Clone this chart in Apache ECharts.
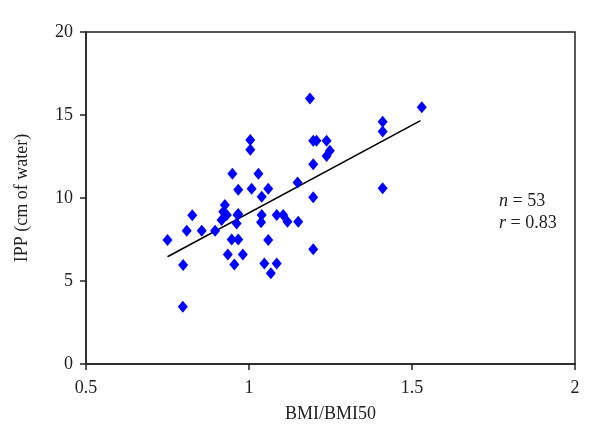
<!DOCTYPE html>
<html>
<head>
<meta charset="utf-8">
<script src="https://cdn.jsdelivr.net/npm/echarts@6/dist/echarts.min.js"></script>
<style>html,body{margin:0;padding:0;background:#fff}#c{width:600px;height:447px}</style>
</head>
<body>
<div id="c"></div>
<script>
// BMI/BMI50 values
var bmiRatio = [0.750,0.797,0.798,0.809,0.826,0.855,0.896,0.916,0.921,0.926,0.932,0.935,0.947,0.949,0.955,0.962,0.965,0.967,0.967,0.967,0.981,1.004,1.004,1.008,1.029,1.039,1.039,1.037,1.047,1.059,1.059,1.067,1.085,1.085,1.105,1.118,1.151,1.149,1.187,1.197,1.207,1.238,1.248,1.238,1.197,1.197,1.197,1.410,1.410,1.410,1.530];
// IPP values (cm of water)
var ipp = [7.47,3.45,5.96,8.03,8.96,8.03,8.03,8.67,9.17,9.58,8.98,6.60,7.50,11.46,6.00,8.47,8.98,7.50,10.50,9.04,6.60,13.49,12.90,10.56,11.46,10.08,8.98,8.54,6.06,7.47,10.56,5.46,8.98,6.06,8.98,8.57,8.57,10.94,16.00,13.45,13.45,13.45,12.85,12.53,12.03,10.04,6.91,14.60,14.00,10.58,15.46];
// fitted regression line end points
var trendX = [0.75, 1.526];
var trendY = [6.46, 14.66];
var xTicks = [0.5, 1, 1.5, 2];
var yTicks = [0, 5, 10, 15, 20];

var pts = bmiRatio.map(function(v,i){return [v, ipp[i]];});
var trend = trendX.map(function(v,i){return [v, trendY[i]];});
var font = 'Liberation Serif';
var chart = echarts.init(document.getElementById('c'), null, {renderer:'canvas'});
chart.setOption({
  animation:false,
  backgroundColor:'#fff',
  grid:{left:86, right:25, top:32, bottom:83, show:true, borderColor:'#222', borderWidth:1.5, backgroundColor:'transparent'},
  xAxis:{type:'value', min:0.5, max:2, interval:0.5,
    name:'BMI/BMI50', nameLocation:'middle', nameGap:41,
    nameTextStyle:{fontFamily:font, fontSize:18, color:'#222'},
    axisLine:{show:true, onZero:false, lineStyle:{color:'#222', width:1.5}},
    axisTick:{show:true, inside:false, length:6, lineStyle:{color:'#222', width:1.5}},
    axisLabel:{fontFamily:font, fontSize:18, color:'#222', margin:15,
      formatter:function(v){return xTicks.indexOf(v)>=0 ? String(v) : '';}},
    splitLine:{show:false}},
  yAxis:{type:'value', min:0, max:20, interval:5,
    name:'IPP (cm of water)', nameLocation:'middle', nameGap:55, nameRotate:90,
    nameTextStyle:{fontFamily:font, fontSize:18, color:'#222'},
    axisLine:{show:true, onZero:false, lineStyle:{color:'#222', width:1.5}},
    axisTick:{show:true, inside:false, length:6, lineStyle:{color:'#222', width:1.5}},
    axisLabel:{fontFamily:font, fontSize:18, color:'#222', margin:13,
      formatter:function(v){return yTicks.indexOf(v)>=0 ? String(v) : '';}},
    splitLine:{show:false}},
  graphic:[{type:'text', left:499, top:190, style:{
    text:'{i|n} = 53\n{i|r} = 0.83',
    font:'18px "Liberation Serif"', fill:'#222', lineHeight:22,
    rich:{i:{fontStyle:'italic', fontFamily:font, fontSize:18, fill:'#222'}}}}],
  series:[
    {type:'line', data:trend, showSymbol:false, symbol:'none', lineStyle:{color:'#000', width:1.5}, z:3, silent:true},
    {type:'scatter', data:pts, symbol:'diamond', symbolSize:[10,12], itemStyle:{color:'#0000ff', opacity:1}, z:4}
  ]
});
</script>
</body>
</html>
